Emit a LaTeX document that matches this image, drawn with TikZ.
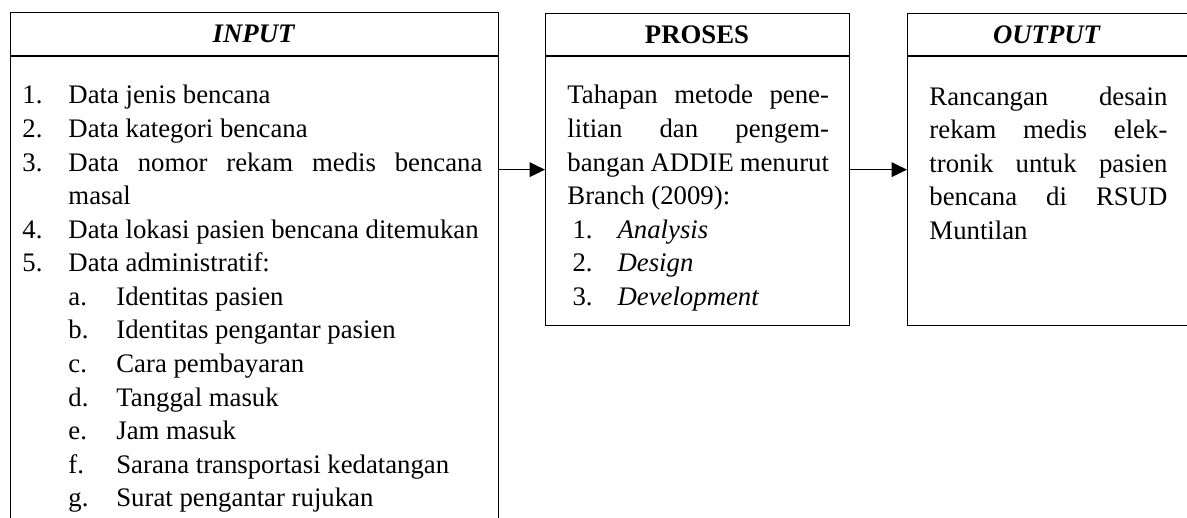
\documentclass[tikz,border=0pt]{standalone}
\usepackage{fontspec}
\setmainfont{Liberation Serif}
\usepackage{array}
\usetikzlibrary{arrows.meta}
\setlength{\parindent}{0pt}

\tikzset{
  box/.style={draw, line width=0.5pt, anchor=north west, inner sep=0pt},
  headtext/.style={font=\fontsize{11}{13.8}\selectfont\bfseries, inner sep=0pt},
  bodytext/.style={font=\fontsize{11}{13.8}\selectfont, anchor=north west, inner sep=0pt},
  arr/.style={-{Triangle[length=6.3pt,width=6pt]}, line width=0.5pt}
}

\begin{document}
\begin{tikzpicture}[x=0.4111pt, y=-0.4111pt]
  \useasboundingbox (0,0) rectangle (1187,517);

  % the three boxes
  \node[box, minimum width=200.6pt, minimum height=217pt] (inbox) at (10,12) {};
  \node[box, minimum width=125pt, minimum height=128.3pt] (probox) at (545,13) {};
  \node[box, minimum width=116.3pt, minimum height=128.3pt] (outbox) at (907,13) {};

  % header lines
  \draw[line width=0.5pt] ([yshift=-18.1pt]inbox.north west) -- ([yshift=-18.1pt]inbox.north east);
  \draw[line width=0.5pt] ([yshift=-17.7pt]probox.north west) -- ([yshift=-17.7pt]probox.north east);
  \draw[line width=0.5pt] ([yshift=-17.7pt]outbox.north west) -- ([yshift=-17.7pt]outbox.north east);

  % headers
  \node[headtext] (intitle) at (254,34) {\textit{INPUT}};
  \node[headtext] (protitle) at (697,35) {PROSES};
  \node[headtext] (outtitle) at (1047,35) {\textit{OUTPUT}};

  % contents
  \node[bodytext] (inlist) at (22,80) {%
    \begin{tabular}{@{}p{18.9pt}@{}p{19.7pt}@{}p{150.5pt}@{}}
      1. & \multicolumn{2}{@{}p{170.2pt}@{}}{Data jenis bencana}\\
      2. & \multicolumn{2}{@{}p{170.2pt}@{}}{Data kategori bencana}\\
      3. & \multicolumn{2}{@{}p{170.2pt}@{}}{Data nomor rekam medis bencana\linebreak masal}\\
      4. & \multicolumn{2}{@{}p{170.2pt}@{}}{Data lokasi pasien bencana ditemukan}\\
      5. & \multicolumn{2}{@{}p{170.2pt}@{}}{Data administratif:}\\
         & a. & Identitas pasien\\
         & b. & Identitas pengantar pasien\\
         & c. & Cara pembayaran\\
         & d. & Tanggal masuk\\
         & e. & Jam masuk\\
         & f. & Sarana transportasi kedatangan\\
         & g. & Surat pengantar rujukan\\
    \end{tabular}};

  \node[bodytext] (protext) at (567,80) {%
    \begin{tabular}{@{}p{2.1pt}@{}p{18.5pt}@{}p{86.9pt}@{}}
      \multicolumn{3}{@{}p{107.5pt}@{}}{Tahapan metode pene-\linebreak litian dan pengem-\linebreak bangan ADDIE menurut\linebreak Branch (2009):}\\
      & 1. & \textit{Analysis}\\
      & 2. & \textit{Design}\\
      & 3. & \textit{Development}\\
    \end{tabular}};

  \node[bodytext, text width=97.8pt, align=justify] (outtext) at (929,86) {%
    Rancangan desain\linebreak rekam medis elek-\linebreak tronik untuk pasien\linebreak bencana di RSUD\linebreak Muntilan};

  % flow
  \draw[arr] (inbox.east |- probox.west) -- (probox.west);
  \draw[arr] (probox.east) -- (outbox.west);
\end{tikzpicture}
\end{document}
